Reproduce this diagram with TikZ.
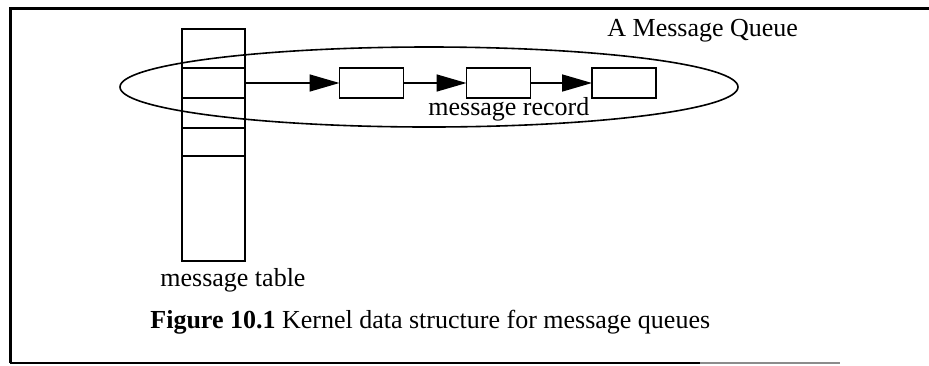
\documentclass[tikz,border=0pt]{standalone}
\usepackage{fontspec}
\setmainfont{Liberation Serif}
\usetikzlibrary{arrows.meta,shapes.geometric}
\begin{document}
\begin{tikzpicture}[x=0.5pt,y=-0.5pt,
  cell/.style={draw,line width=0.8pt,minimum width=31.5pt,inner sep=0pt,outer sep=0pt,anchor=north west},
  rec/.style={draw,line width=0.8pt,minimum width=32pt,minimum height=15pt,inner sep=0pt,outer sep=0pt},
  link/.style={line width=0.8pt,-{Triangle[length=15pt,width=8.5pt]}},
  lbl/.style={font=\fontsize{13pt}{15pt}\selectfont,inner sep=0pt,anchor=base west}]
\useasboundingbox (0,0) rectangle (929,365);

% page frame (open on the right)
\draw[line width=1.5pt] (929,8) -- (10,8) -- (10,363);
\draw[line width=0.9pt] (10,363) -- (700,363);
\draw[line width=0.9pt,black!45] (700,363) -- (840,363);

% message table column
\node[cell,minimum height=19.5pt] (c1) at (182,29) {};
\node[cell,minimum height=15pt]   (c2) at (182,68) {};
\node[cell,minimum height=15pt]   (c3) at (182,98) {};
\node[cell,minimum height=14pt]   (c4) at (182,128) {};
\node[cell,minimum height=52.5pt] (c5) at (182,156) {};

% the queue outline
\node[ellipse,draw,line width=0.8pt,minimum width=309pt,minimum height=40pt,inner sep=0pt] (queue) at (429,87) {};

% message records
\node[rec] (b1) at (371.5,83) {};
\node[rec] (b2) at (498.5,83) {};
\node[rec] (b3) at (624,83) {};

\draw[link] (c2.east) -- (b1.west);
\draw[link] (b1.east) -- (b2.west);
\draw[link] (b2.east) -- (b3.west);

% labels
\node[lbl] (qlabel) at (607,36) {A Message Queue};
\node[lbl] (rlabel) at (428,115) {message record};
\node[lbl] (tlabel) at (160,286) {message table};
\node[lbl] (caption) at (150,328) {\textbf{Figure 10.1} Kernel data structure for message queues};
\end{tikzpicture}
\end{document}
